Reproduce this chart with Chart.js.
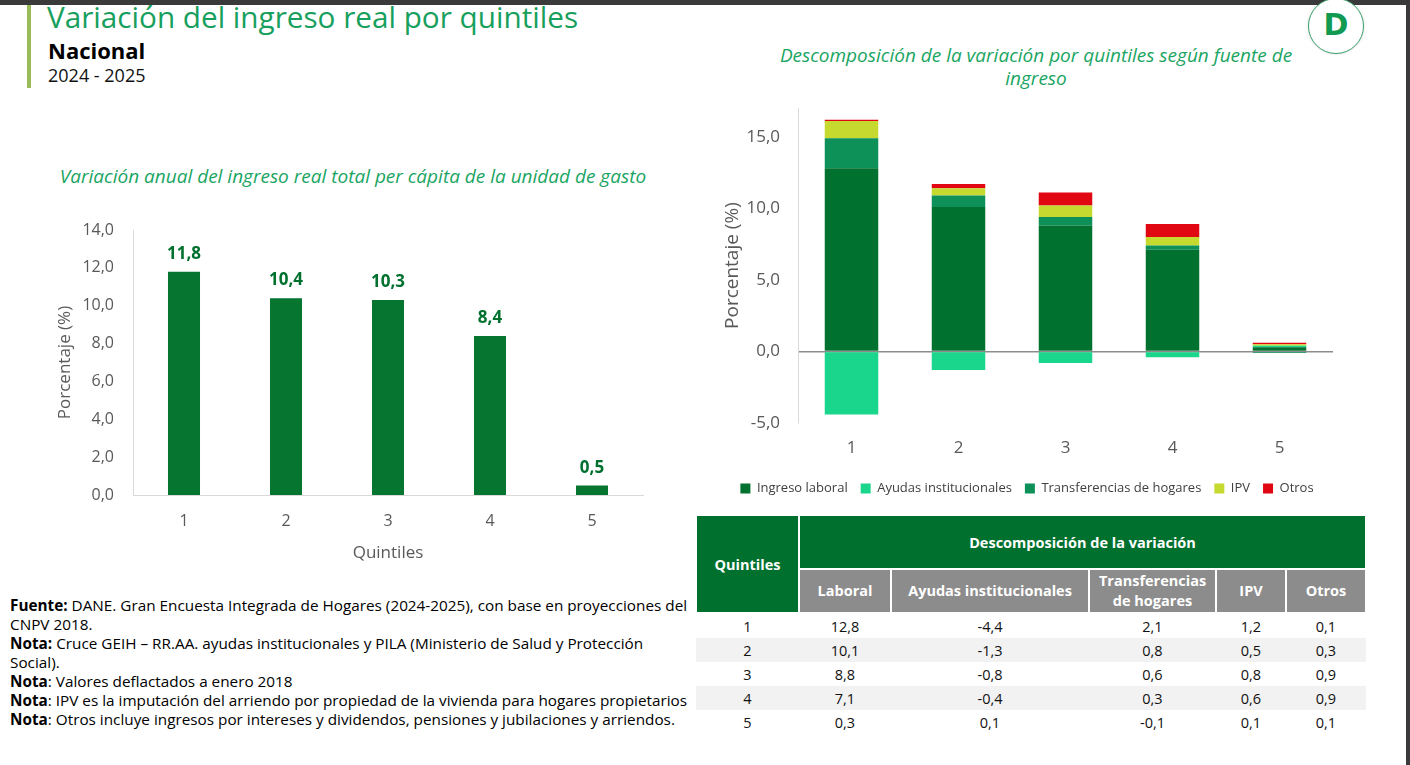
<!DOCTYPE html>
<html>
<head>
<meta charset="utf-8">
<script src="https://cdn.jsdelivr.net/npm/chart.js@4.4.0/dist/chart.umd.min.js"></script>
<style>
  body { margin: 0; width: 1410px; height: 765px; position: relative; overflow: hidden; background: #fff; font-family: "Open Sans", sans-serif; }
  .frame-top { position: absolute; left: 0; top: 0; width: 1410px; height: 5px; background: #3a3a3a; }
  .frame-right { position: absolute; right: 0; top: 0; width: 4px; height: 765px; background: #3a3a3a; }
  .accent { position: absolute; left: 27px; top: 5px; width: 4px; height: 83px; background: #9bbb59; }
  .title { position: absolute; left: 47px; top: -4px; font-size: 29.7px; color: #17a05d; white-space: nowrap; }
  .subtitle { position: absolute; left: 48px; top: 35px; font-size: 22px; font-weight: 700; color: #000; }
  .years { position: absolute; left: 48px; top: 63px; font-size: 18px; color: #111; }
  .chart-title { position: absolute; font-style: italic; color: #1aa562; font-size: 19px; text-align: center; white-space: nowrap; }
  .logo { position: absolute; left: 1308px; top: -2px; width: 54px; height: 54px; border: 1px solid #3aa06a; border-radius: 50%; box-shadow: 0 0 3px rgba(0,0,0,0.15); background: #fff; }
  .logo span { position: absolute; left: 0; width: 54px; top: 9px; text-align: center; font-size: 30px; line-height: 34px; font-weight: 800; color: #119a52; font-family: "DejaVu Sans", sans-serif; }
  #leftBox { position: absolute; left: 40px; top: 200px; width: 620px; height: 370px; }
  #rightBox { position: absolute; left: 690px; top: 80px; width: 680px; height: 425px; }
  .notes { position: absolute; left: 10px; top: 596px; font-size: 15.3px; line-height: 19px; color: #000; white-space: nowrap; }
  table { position: absolute; left: 695px; top: 514px; border-collapse: collapse; font-size: 14.5px; }
  th { color: #fff; font-weight: 700; border: 2px solid #fff; padding: 0; }
  th.green { background: #00702e; }
  th.grey { background: #8c8c8c; line-height: 20px; }
  td { text-align: center; height: 24px; padding: 0; color: #111; }
  tr.alt td { background: #f2f2f2; }
</style>
</head>
<body>
<div class="frame-top"></div>
<div class="frame-right"></div>
<div class="accent"></div>
<div class="title">Variación del ingreso real por quintiles</div>
<div class="subtitle">Nacional</div>
<div class="years">2024 - 2025</div>
<div class="logo"><span>D</span></div>

<div class="chart-title" style="left:40px; top:163px; width:626px;">Variación anual del ingreso real total per cápita de la unidad de gasto</div>
<div class="chart-title" style="left:736px; top:44px; width:600px; line-height:23px;">Descomposición de la variación por quintiles según fuente de<br>ingreso</div>

<div id="leftBox"><canvas id="totalChart"></canvas></div>
<div id="rightBox"><canvas id="fuenteChart"></canvas></div>

<table id="tabla">
  <tr>
    <th class="green" rowspan="2" style="width:101px;height:96px;">Quintiles</th>
    <th class="green" colspan="5" style="height:52px;">Descomposición de la variación</th>
  </tr>
  <tr>
    <th class="grey" style="width:90px;height:42px;">Laboral</th>
    <th class="grey" style="width:196px;">Ayudas institucionales</th>
    <th class="grey" style="width:125px;">Transferencias<br>de hogares</th>
    <th class="grey" style="width:68px;">IPV</th>
    <th class="grey" style="width:78px;">Otros</th>
  </tr>
</table>

<div class="notes">
  <b>Fuente:</b> DANE. Gran Encuesta Integrada de Hogares (2024-2025), con base en proyecciones del<br>
  CNPV 2018.<br>
  <b>Nota:</b> Cruce GEIH – RR.AA. ayudas institucionales y PILA (Ministerio de Salud y Protección<br>
  Social).<br>
  <b>Nota</b>: Valores deflactados a enero 2018<br>
  <b>Nota</b>: IPV es la imputación del arriendo por propiedad de la vivienda para hogares propietarios<br>
  <b>Nota</b>: Otros incluye ingresos por intereses y dividendos, pensiones y jubilaciones y arriendos.
</div>

<script>
const quintiles = ["1", "2", "3", "4", "5"];
const variacionTotal = [11.8, 10.4, 10.3, 8.4, 0.5];

const laboral = [12.8, 10.1, 8.8, 7.1, 0.3];
const ayudas = [-4.4, -1.3, -0.8, -0.4, 0.1];
const transferencias = [2.1, 0.8, 0.6, 0.3, -0.1];
const ipv = [1.2, 0.5, 0.8, 0.6, 0.1];
const otros = [0.1, 0.3, 0.9, 0.9, 0.1];

const fuentes = ["Ingreso laboral", "Ayudas institucionales", "Transferencias de hogares", "IPV", "Otros"];
const coloresFuente = ["#00712f", "#19d68c", "#0e9158", "#c5d92f", "#e00712"];

const fmt = v => v.toFixed(1).replace(".", ",");
const grisTexto = "#595959";

// table body from the same arrays
const tabla = document.getElementById("tabla");
quintiles.forEach((q, i) => {
    const tr = document.createElement("tr");
    if (i % 2 === 1) tr.className = "alt";
    [q, fmt(laboral[i]), fmt(ayudas[i]), fmt(transferencias[i]), fmt(ipv[i]), fmt(otros[i])].forEach(txt => {
        const td = document.createElement("td");
        td.textContent = txt;
        tr.appendChild(td);
    });
    tabla.appendChild(tr);
});

const valueLabels = {
    id: "valueLabels",
    afterDatasetsDraw(chart) {
        const ctx = chart.ctx;
        const meta = chart.getDatasetMeta(0);
        ctx.save();
        ctx.font = "bold 17px 'Open Sans', sans-serif";
        ctx.fillStyle = "#00702e";
        ctx.textAlign = "center";
        ctx.textBaseline = "bottom";
        meta.data.forEach((bar, i) => {
            ctx.fillText(fmt(variacionTotal[i]), bar.x, bar.y - 9);
        });
        ctx.restore();
    }
};

new Chart(document.getElementById("totalChart"), {
    type: "bar",
    data: {
        labels: quintiles,
        datasets: [{
            data: variacionTotal,
            backgroundColor: "#05752f",
            barPercentage: 0.314,
            categoryPercentage: 1
        }]
    },
    options: {
        responsive: true,
        maintainAspectRatio: false,
        animation: false,
        layout: { padding: { top: 30, right: 17, left: 0, bottom: 0 } },
        plugins: { legend: { display: false }, tooltip: { enabled: false } },
        scales: {
            x: {
                grid: { display: false, drawTicks: false },
                border: { color: "#d9d9d9", width: 1 },
                ticks: { color: grisTexto, font: { size: 16, family: "'Open Sans', sans-serif" }, padding: 17 },
                title: { display: true, text: "Quintiles", color: grisTexto, font: { size: 17, family: "'Open Sans', sans-serif" }, padding: { top: 0, bottom: 7 } },
                afterFit: s => { s.height = 75; }
            },
            y: {
                min: 0, max: 14,
                grid: { display: false, drawTicks: false },
                border: { color: "#d9d9d9", width: 1 },
                ticks: { stepSize: 2, color: grisTexto, font: { size: 16, family: "'Open Sans', sans-serif" }, padding: 19, callback: v => fmt(v) },
                title: { display: true, text: "Porcentaje (%)", color: grisTexto, font: { size: 17, family: "'Open Sans', sans-serif" }, padding: { top: 15, bottom: 0 } },
                afterFit: s => { s.width = 93; }
            }
        }
    },
    plugins: [valueLabels]
});

const seriesFuente = [laboral, ayudas, transferencias, ipv, otros];

new Chart(document.getElementById("fuenteChart"), {
    type: "bar",
    data: {
        labels: quintiles,
        datasets: fuentes.map((nombre, k) => ({
            label: nombre,
            data: seriesFuente[k],
            backgroundColor: coloresFuente[k],
            barPercentage: 0.5,
            categoryPercentage: 1
        }))
    },
    options: {
        responsive: true,
        maintainAspectRatio: false,
        animation: false,
        layout: { padding: { top: 7, right: 37, left: 31, bottom: 0 } },
        plugins: {
            tooltip: { enabled: false },
            legend: {
                position: "bottom",
                labels: { boxWidth: 10, boxHeight: 10, padding: 13, color: "#404040", font: { size: 13, family: "'Open Sans', sans-serif" } }
            }
        },
        scales: {
            x: {
                stacked: true,
                grid: { display: false, drawTicks: false },
                border: { display: false },
                ticks: { color: grisTexto, font: { size: 17, family: "'Open Sans', sans-serif" }, padding: 15 },
                afterFit: s => { s.height = 46; }
            },
            y: {
                stacked: true,
                min: -5, max: 17,
                grid: { drawTicks: false, color: c => c.tick.value === 0 ? "#8c8c8c" : "transparent", lineWidth: 1.5 },
                border: { color: "#d9d9d9", width: 1 },
                ticks: { stepSize: 5, color: grisTexto, font: { size: 17, family: "'Open Sans', sans-serif" }, padding: 18, callback: v => (v % 5 === 0 ? fmt(v) : "") },
                title: { display: true, text: "Porcentaje (%)", color: grisTexto, font: { size: 19, family: "'Open Sans', sans-serif" }, padding: { top: 0, bottom: 0 } },
                afterFit: s => { s.width = 77; }
            }
        }
    }
});
</script>
</body>
</html>
